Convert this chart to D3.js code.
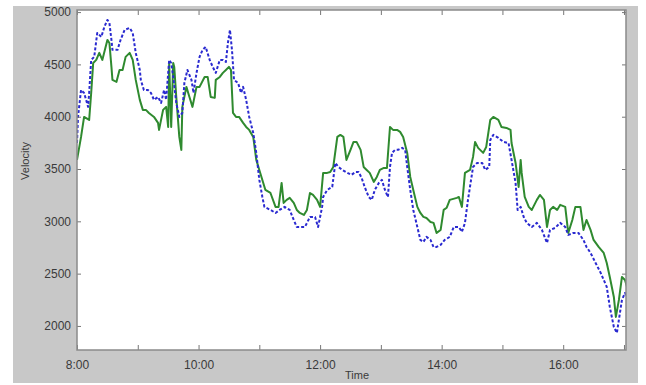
<!DOCTYPE html>
<html>
<head>
<meta charset="utf-8">
<script src="https://cdn.jsdelivr.net/npm/d3@7"></script>
<style>
  html, body { margin: 0; padding: 0; background: #fff; }
  svg { display: block; font-family: "Liberation Sans", Arial, sans-serif; }
  .tick text { fill: #3a3a3a; font-size: 12px; }
</style>
</head>
<body>
<div id="chart"></div>
<script>
// minutes after 08:00 and velocity readings, green (solid) series
const greenMinutes = [0, 4, 7, 12, 14, 16, 19, 22, 25, 30, 32, 34, 35, 39, 42, 45, 48, 52, 55, 58,
  62, 65, 68, 71, 76, 80, 81, 85, 88, 90, 91, 93, 95, 96, 98, 101, 103, 104, 108, 111,
  114, 118, 121, 126, 129, 132, 136, 137, 141, 144, 147, 150, 152, 154, 157, 160, 164, 167, 170, 174,
  177, 180, 186, 191, 196, 199, 202, 204, 207, 210, 214, 217, 220, 224, 227, 230, 233, 237, 240, 243,
  247, 250, 253, 257, 260, 263, 266, 270, 273, 276, 280, 283, 286, 289, 293, 296, 299, 303, 306, 309,
  312, 316, 319, 322, 326, 329, 332, 336, 339, 342, 345, 349, 352, 355, 359, 362, 365, 368, 375, 377,
  380, 383, 388, 391, 393, 396, 401, 404, 408, 411, 416, 419, 424, 428, 429, 433, 436, 438, 439, 442,
  446, 449, 454, 457, 461, 464, 467, 470, 474, 477, 482, 485, 489, 492, 497, 500, 503, 507, 510, 515,
  520, 523, 526, 530, 532, 535, 538, 541, 543];
const greenVelocity = [3587, 3807, 3998, 3969, 4227, 4514, 4543, 4610, 4543, 4734, 4705, 4476, 4352, 4333, 4447, 4447, 4572, 4610, 4543, 4352,
  4161, 4065, 4065, 4036, 3998, 3941, 3874, 4065, 4094, 3902, 4514, 3902, 4514, 4476, 4189, 3807, 3683, 4094, 4285, 4189,
  4094, 4285, 4285, 4380, 4380, 4189, 4180, 4352, 4380, 4419, 4447, 4476, 4447, 4036, 3998, 3998, 3941, 3902, 3874, 3807,
  3587, 3491, 3300, 3271, 3138, 3138, 3367, 3176, 3205, 3224, 3176, 3109, 3080, 3061, 3109, 3271, 3252, 3205, 3138, 3463,
  3463, 3472, 3520, 3807, 3826, 3807, 3587, 3683, 3759, 3759, 3683, 3520, 3491, 3463, 3377, 3424, 3491, 3510, 3510, 3902,
  3874, 3874, 3855, 3807, 3654, 3424, 3300, 3138, 3080, 3042, 3032, 2994, 2985, 2889, 2918, 3109, 3130, 3205, 3224, 3233,
  3138, 3463, 3491, 3616, 3759, 3702, 3654, 3711, 3969, 3998, 3969, 3902, 3893, 3874, 3749, 3558, 3329, 3587, 3463, 3233,
  3138, 3109, 3205, 3252, 3205, 2946, 3109, 3138, 3109, 3157, 3138, 2889, 3013, 3138, 3138, 2918, 3013, 2918, 2822, 2755,
  2698, 2602, 2468, 2277, 2086, 2249, 2468, 2440, 2373];

// blue (dashed) series
const blueMinutes = [0, 1, 4, 7, 11, 12, 14, 17, 20, 24, 27, 30, 32, 34, 35, 40, 43, 47, 52, 55,
  58, 62, 63, 66, 70, 73, 76, 80, 83, 86, 88, 91, 93, 95, 98, 101, 104, 106, 109, 113,
  115, 118, 121, 124, 127, 131, 134, 137, 141, 144, 147, 149, 151, 153, 155, 159, 162, 164, 167, 170,
  174, 177, 180, 183, 185, 191, 196, 200, 205, 210, 214, 217, 222, 225, 230, 235, 238, 242, 243, 247,
  252, 255, 258, 262, 267, 271, 275, 278, 281, 284, 288, 291, 294, 298, 301, 304, 307, 309, 311, 314,
  317, 321, 324, 326, 329, 332, 336, 339, 342, 345, 349, 352, 355, 359, 363, 368, 372, 377, 380, 383,
  386, 391, 395, 400, 403, 407, 408, 411, 416, 421, 426, 429, 433, 435, 438, 441, 444, 449, 454, 459,
  464, 467, 472, 477, 482, 485, 490, 495, 500, 503, 507, 512, 517, 520, 523, 526, 530, 533, 536, 538,
  541, 543];
const blueVelocity = [3749, 3998, 4256, 4227, 4094, 4227, 4543, 4572, 4801, 4763, 4858, 4925, 4897, 4734, 4639, 4639, 4734, 4830, 4849, 4801,
  4610, 4447, 4352, 4256, 4256, 4227, 4161, 4189, 4132, 4256, 4161, 4543, 4514, 4380, 4132, 3998, 4036, 4323, 4447, 4352,
  4227, 4419, 4572, 4639, 4667, 4543, 4476, 4419, 4543, 4543, 4524, 4705, 4830, 4639, 4352, 4323, 4227, 4285, 4161, 3998,
  3845, 3654, 3396, 3233, 3138, 3109, 3080, 3109, 3138, 3109, 3013, 2946, 2946, 2946, 3042, 3042, 2946, 3138, 3233, 3300,
  3329, 3558, 3520, 3491, 3463, 3444, 3472, 3472, 3415, 3329, 3233, 3205, 3300, 3367, 3396, 3300, 3233, 3520, 3654, 3683,
  3683, 3702, 3683, 3520, 3300, 3109, 2946, 2822, 2803, 2851, 2822, 2755, 2755, 2775, 2822, 2851, 2946, 2946, 2899, 2985,
  3205, 3520, 3558, 3558, 3491, 3520, 3778, 3826, 3797, 3759, 3749, 3587, 3367, 3109, 3138, 3042, 2985, 2946, 2985, 2918,
  2793, 2918, 2937, 2985, 2946, 2870, 2889, 2889, 2822, 2755, 2698, 2602, 2507, 2440, 2373, 2182, 1990, 1933, 2124, 2249,
  2315, 2277];

const yTickValues = [2000, 2500, 3000, 3500, 4000, 4500, 5000];
const xTickHours = [8, 9, 10, 11, 12, 13, 14, 15, 16, 17];
const labelledHours = [8, 10, 12, 14, 16];

const width = 646;
const height = 385;
const plot = {left: 77, top: 10, right: 626, bottom: 350};

const toDate = (m) => new Date(2000, 0, 1, 8, m);

const svg = d3.select('#chart')
  .append('svg')
  .attr('width', width)
  .attr('height', height);

// grey figure background
svg.append('rect')
  .attr('x', 13).attr('y', 6)
  .attr('width', 625).attr('height', 377)
  .attr('fill', '#c8c8c8');

svg.append('rect')
  .attr('x', plot.left).attr('y', plot.top)
  .attr('width', plot.right - plot.left).attr('height', plot.bottom - plot.top)
  .attr('fill', '#fff');

const x = d3.scaleTime()
  .domain([new Date(2000, 0, 1, 8, 0), new Date(2000, 0, 1, 17, 2)])
  .range([plot.left, plot.right]);

const y = d3.scaleLinear()
  .domain([1770, 5020])
  .range([plot.bottom, plot.top]);

const hourDates = xTickHours.map(h => new Date(2000, 0, 1, h, 0));
const hourFormat = d3.timeFormat('%-H:%M');

const clip = svg.append('clipPath').attr('id', 'plotclip')
  .append('rect')
  .attr('x', plot.left).attr('y', plot.top)
  .attr('width', plot.right - plot.left).attr('height', plot.bottom - plot.top);

const line = d3.line()
  .x(d => x(toDate(d[0])))
  .y(d => y(d[1]));

const lines = svg.append('g').attr('clip-path', 'url(#plotclip)');

lines.append('path')
  .datum(greenMinutes.map((m, i) => [m, greenVelocity[i]]))
  .attr('d', line)
  .attr('fill', 'none')
  .attr('stroke', '#2f8a2f')
  .attr('stroke-width', 2)
  .attr('stroke-linejoin', 'round');

lines.append('path')
  .datum(blueMinutes.map((m, i) => [m, blueVelocity[i]]))
  .attr('d', line)
  .attr('fill', 'none')
  .attr('stroke', '#2a2ad0')
  .attr('stroke-width', 2)
  .attr('stroke-dasharray', '3,2')
  .attr('stroke-linejoin', 'round');

// axes, ticks pointing inwards like the original
const bottomAxis = svg.append('g')
  .attr('transform', 'translate(0,' + plot.bottom + ')')
  .call(d3.axisBottom(x).tickValues(hourDates).tickSize(-5).tickPadding(10)
    .tickFormat(d => labelledHours.includes(d.getHours()) ? hourFormat(d) : ''));

svg.append('g')
  .attr('transform', 'translate(0,' + plot.top + ')')
  .call(d3.axisTop(x).tickValues(hourDates).tickSize(-5).tickFormat(''));

svg.append('g')
  .attr('transform', 'translate(' + plot.left + ',0)')
  .call(d3.axisLeft(y).tickValues(yTickValues).tickSize(-4).tickPadding(6).tickFormat(d3.format('d')));

svg.append('g')
  .attr('transform', 'translate(' + plot.right + ',0)')
  .call(d3.axisRight(y).tickValues(yTickValues).tickSize(-4).tickFormat(''));

svg.selectAll('.domain').remove();
svg.selectAll('.tick line').attr('stroke', '#777');

svg.append('rect')
  .attr('x', plot.left).attr('y', plot.top)
  .attr('width', plot.right - plot.left).attr('height', plot.bottom - plot.top)
  .attr('fill', 'none')
  .attr('stroke', '#8a8a8a')
  .attr('stroke-width', 1.5);

svg.append('text')
  .attr('x', 357)
  .attr('y', 379)
  .attr('text-anchor', 'middle')
  .attr('font-size', 11)
  .attr('fill', '#3a3a3a')
  .text('Time');

svg.append('text')
  .attr('transform', 'translate(29,161) rotate(-90)')
  .attr('text-anchor', 'middle')
  .attr('font-size', 11)
  .attr('fill', '#3a3a3a')
  .text('Velocity');
</script>
</body>
</html>
